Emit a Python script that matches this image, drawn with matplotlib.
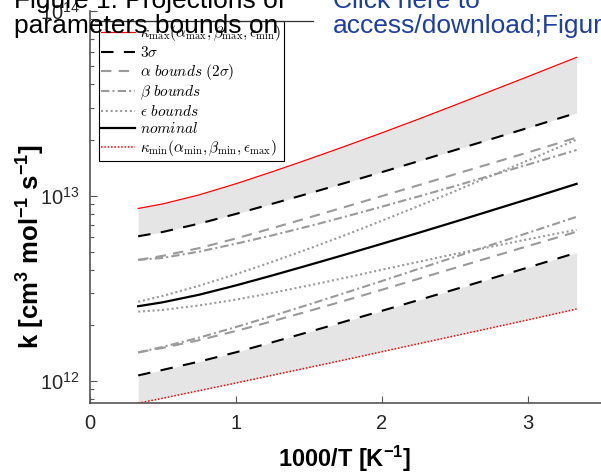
import matplotlib
matplotlib.use('Agg')
import matplotlib.pyplot as plt
from matplotlib.font_manager import FontProperties
from matplotlib.lines import Line2D

plt.rcParams['font.family'] = ['Liberation Sans', 'DejaVu Sans']
plt.rcParams['mathtext.fontset'] = 'cm'

# 1000/T [1/K], T from 3000 K down to 300 K
inv_T = [0.333, 0.5, 0.75, 1.0, 1.25, 1.5, 1.75, 2.0, 2.25, 2.5, 3.0, 3.333]

# rate constants [cm3 mol-1 s-1]
k_max = [8.55e12, 9.04e12, 1.012e13, 1.161e13, 1.349e13, 1.578e13,
         1.854e13, 2.188e13, 2.594e13, 3.090e13, 4.406e13, 5.598e13]
k_3s_hi = [6.05e12, 6.38e12, 7.08e12, 7.98e12, 9.06e12, 1.030e13,
           1.175e13, 1.343e13, 1.538e13, 1.766e13, 2.328e13, 2.805e13]
k_alpha_hi = [4.51e12, 4.74e12, 5.22e12, 5.88e12, 6.69e12, 7.63e12,
              8.72e12, 9.97e12, 1.141e13, 1.308e13, 1.716e13, 2.064e13]
k_beta_hi = [4.51e12, 4.62e12, 5.00e12, 5.51e12, 6.12e12, 6.85e12,
             7.72e12, 8.74e12, 9.92e12, 1.129e13, 1.475e13, 1.769e13]
k_eps_hi = [2.68e12, 2.88e12, 3.27e12, 3.77e12, 4.40e12, 5.18e12,
            6.14e12, 7.34e12, 8.80e12, 1.060e13, 1.554e13, 2.012e13]
k_nom = [2.535e12, 2.661e12, 2.924e12, 3.281e12, 3.715e12, 4.227e12,
         4.819e12, 5.508e12, 6.310e12, 7.244e12, 9.594e12, 1.161e13]
k_eps_lo = [2.37e12, 2.42e12, 2.56e12, 2.75e12, 2.99e12, 3.28e12,
            3.61e12, 3.99e12, 4.40e12, 4.85e12, 5.83e12, 6.56e12]
k_beta_lo = [1.427e12, 1.528e12, 1.715e12, 1.955e12, 2.244e12, 2.588e12,
             2.993e12, 3.467e12, 4.029e12, 4.678e12, 6.311e12, 7.705e12]
k_alpha_lo = [1.427e12, 1.509e12, 1.662e12, 1.861e12, 2.102e12, 2.386e12,
              2.721e12, 3.109e12, 3.562e12, 4.080e12, 5.355e12, 6.397e12]
k_3s_lo = [1.072e12, 1.148e12, 1.273e12, 1.428e12, 1.618e12, 1.840e12,
           2.098e12, 2.393e12, 2.734e12, 3.125e12, 4.102e12, 4.931e12]
k_min = [7.59e11, 8.07e11, 8.87e11, 9.75e11, 1.074e12, 1.183e12,
         1.303e12, 1.439e12, 1.589e12, 1.754e12, 2.138e12, 2.448e12]

labels = [
    r'$\kappa_{\mathrm{max}}(\alpha_{\mathrm{max}},\beta_{\mathrm{max}},\epsilon_{\mathrm{min}})$',
    r'$3\sigma$',
    r'$\alpha\ bounds\ (2\sigma)$',
    r'$\beta\ bounds$',
    r'$\epsilon\ bounds$',
    r'$nominal$',
    r'$\kappa_{\mathrm{min}}(\alpha_{\mathrm{min}},\beta_{\mathrm{min}},\epsilon_{\mathrm{max}})$',
]

W, H = 601, 473
fig = plt.figure(figsize=(W / 100, H / 100), dpi=100)
ax = fig.add_axes([89.5 / W, 1 - 403.3 / H, (W - 89.5) / W, (403.3 - 10.7) / H])

grey = '#9a9a9a'
ax.fill_between(inv_T, k_3s_hi, k_max, color='#e5e5e5', lw=0)
ax.fill_between(inv_T, k_min, k_3s_lo, color='#e5e5e5', lw=0)

ax.plot(inv_T, k_max, color='red', lw=0.9, label=labels[0])
ax.plot(inv_T, k_3s_hi, color='black', lw=1.5, dashes=(6, 5), label=labels[1])
ax.plot(inv_T, k_3s_lo, color='black', lw=1.5, dashes=(6, 5))
ax.plot(inv_T, k_alpha_hi, color=grey, lw=1.5, dashes=(5, 3.5), label=labels[2])
ax.plot(inv_T, k_alpha_lo, color=grey, lw=1.5, dashes=(5, 3.5))
ax.plot(inv_T, k_beta_hi, color=grey, lw=1.5, dashes=(4, 1.5, 1, 1.5), label=labels[3])
ax.plot(inv_T, k_beta_lo, color=grey, lw=1.5, dashes=(4, 1.5, 1, 1.5))
ax.plot(inv_T, k_eps_hi, color=grey, lw=1.5, dashes=(1, 1.3), label=labels[4])
ax.plot(inv_T, k_eps_lo, color=grey, lw=1.5, dashes=(1, 1.3))
ax.plot(inv_T, k_nom, color='black', lw=1.6, label=labels[5])
ax.plot(inv_T, k_min, color='red', lw=1.1, dashes=(1, 1.2), label=labels[6])

ax.set_yscale('log')
ax.set_xlim(0, 3.5)
ax.set_ylim(7.58e11, 1e14)
ax.set_xticks([0, 1, 2, 3])

for s in ['top', 'right']:
    ax.spines[s].set_visible(False)
for s in ['left', 'bottom']:
    ax.spines[s].set_color('#555555')
    ax.spines[s].set_linewidth(1.2)

ax.tick_params(which='both', direction='in', color='#555555', width=0.8,
               labelsize=14.5, labelcolor='#262626')
ax.tick_params(which='major', length=5)
ax.tick_params(which='minor', length=3)
ax.tick_params(axis='x', pad=8)
ax.tick_params(axis='y', pad=7)

leg = ax.legend(loc='upper left', bbox_to_anchor=(0.0186, 0.9745), borderaxespad=0,
                fancybox=False, edgecolor='black', framealpha=1,
                prop=FontProperties(size=11, math_fontfamily='cm'),
                handlelength=2.2, handletextpad=0.35, labelspacing=0.13, borderpad=0.15)
leg.get_frame().set_linewidth(0.8)

fig.text(345 / W, 1 - 459 / H, r'1000/T [K$\mathdefault{^{-1}}$]', fontsize=17,
         fontweight='bold', ha='center', va='center')
fig.text(31 / W, 1 - 247 / H, r'k [cm$\mathdefault{^3}$ mol$\mathdefault{^{-1}}$ s$\mathdefault{^{-1}}$]',
         fontsize=18.5, fontweight='bold', rotation=90, ha='center', va='center')

# overlaid page annotation
fig.add_artist(Line2D([95 / W, 313 / W], [1 - 20.7 / H, 1 - 20.7 / H], color='#333333', lw=0.9))
fig.text(14 / W, 1 - 8 / H, 'Figure 1: Projections of', fontsize=19, va='baseline', color='black')
fig.text(14 / W, 1 - 33.3 / H, 'parameters bounds on', fontsize=19, va='baseline', color='black')
fig.text(333 / W, 1 - 8 / H, 'Click here to', fontsize=19, va='baseline', color='#1f3f9f')
fig.text(333 / W, 1 - 33.3 / H, 'access/download;Figure;fig1.pdf', fontsize=19, va='baseline',
         color='#1f3f9f')

fig.savefig('out.png', dpi=100)
